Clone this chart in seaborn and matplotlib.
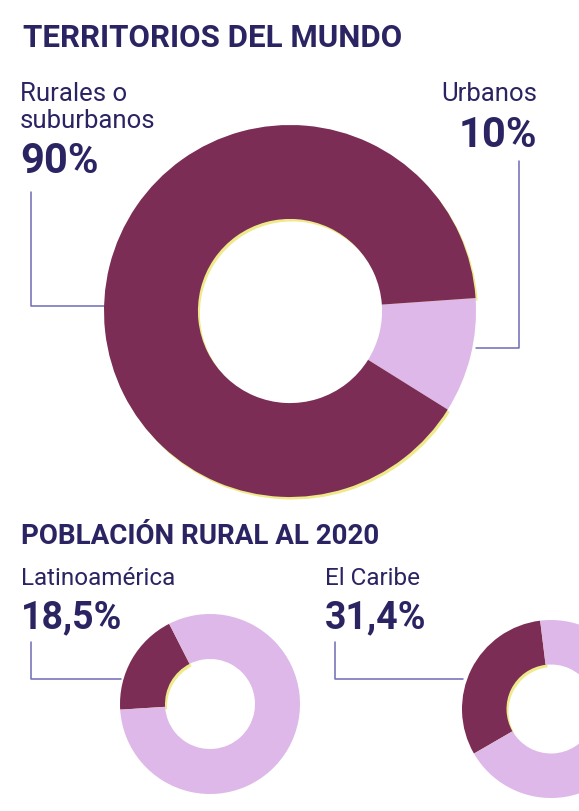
import matplotlib
matplotlib.use("Agg")
import matplotlib.pyplot as plt
import seaborn as sns

# ---------------- data ----------------
title_world = "TERRITORIOS DEL MUNDO"
world_labels = ["Rurales o\nsuburbanos", "Urbanos"]
world_values = [90, 10]

title_rural = "POBLACIÓN RURAL AL 2020"
rural_regions = ["Latinoamérica", "El Caribe"]
rural_share = [18.5, 31.4]

# ---------------- style ----------------
sns.set_theme(style="white")
plt.rcParams['font.family'] = ['Roboto', 'DejaVu Sans']

DARK = '#7B2D55'
LIGHT = '#DDB8E8'
YELLOW = '#EEEA8A'
TEXT = '#2B2462'
LINE = '#6E6BB5'

W, H, DPI = 579, 812, 100
fig = plt.figure(figsize=(W / DPI, H / DPI), dpi=DPI)
fig.patch.set_facecolor('white')

# background axes in pixel coordinates (text + leader lines)
bg = fig.add_axes([0, 0, 1, 1], zorder=0)
bg.set_xlim(0, W)
bg.set_ylim(H, 0)
bg.axis('off')


def fmt(v):
    s = f"{v:.1f}" if v % 1 else f"{int(v)}"
    return s.replace('.', ',') + '%'


def donut(cx, cy, r, values, colors, startangle, counterclock, width):
    ax = fig.add_axes([(cx - r) / W, 1 - (cy + r) / H, 2 * r / W, 2 * r / H], zorder=2)
    # slight yellow mis-registration of the dark ink
    dx, dy = 2.0 / r, -2.5 / r
    ax.pie(values, radius=1, center=(dx, dy), startangle=startangle,
           counterclock=counterclock,
           colors=[YELLOW if c == DARK else (0, 0, 0, 0) for c in colors],
           wedgeprops=dict(width=width, edgecolor='none', linewidth=0))
    ax.pie(values, radius=1, startangle=startangle, counterclock=counterclock,
           colors=colors, wedgeprops=dict(width=width, edgecolor='none', linewidth=0))
    ax.set_aspect('auto')
    ax.set_xlim(-1.0, 1.0)
    ax.set_ylim(-1.0, 1.0)
    ax.axis('off')
    return ax


# ---------------- world donut ----------------
donut(290, 312, 186, [world_values[1], world_values[0]], [LIGHT, DARK],
      startangle=4, counterclock=False, width=0.505)

bg.text(23, 47, title_world, fontsize=22.5, fontweight='bold', color=TEXT, va='baseline')

for i, line in enumerate(world_labels[0].split('\n')):
    bg.text(20, 101 + 27 * i, line, fontsize=18.5, color=TEXT, va='baseline')
bg.text(20, 173, fmt(world_values[0]), fontsize=30, fontweight='bold', color=TEXT, va='baseline')

bg.text(537, 101, world_labels[1], fontsize=18.5, color=TEXT, va='baseline', ha='right')
bg.text(537, 147, fmt(world_values[1]), fontsize=30, fontweight='bold', color=TEXT,
        va='baseline', ha='right')

bg.plot([31, 31, 104], [193, 307, 307], color=LINE, lw=1.1)
bg.plot([519, 519, 476], [162, 349, 349], color=LINE, lw=1.1)

# ---------------- rural population donuts ----------------
bg.text(21, 544, title_rural, fontsize=20, fontweight='bold', color=TEXT, va='baseline')

small = [
    dict(cx=210, cy=705, r=90, start=117, tx=21, lx=31, ex=121),
    dict(cx=551, cy=710, r=89, start=97, tx=325, lx=335, ex=463),
]
for name, share, g in zip(rural_regions, rural_share, small):
    donut(g['cx'], g['cy'], g['r'], [share, 100 - share], [DARK, LIGHT],
          startangle=g['start'], counterclock=True, width=0.5)
    bg.text(g['tx'], 585, name, fontsize=17.5, color=TEXT, va='baseline')
    bg.text(g['tx'], 628, fmt(share), fontsize=27, fontweight='bold', color=TEXT, va='baseline')
    bg.plot([g['lx'], g['lx'], g['ex']], [643, 680, 680], color=LINE, lw=1.1)

fig.savefig('out.png', dpi=DPI, facecolor='white')
